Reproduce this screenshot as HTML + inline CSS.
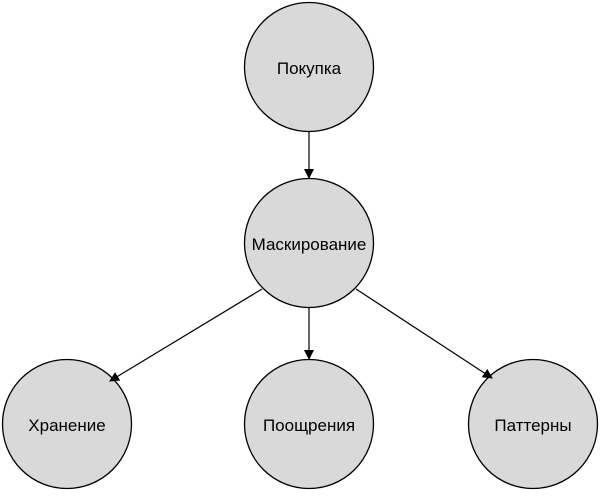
<!DOCTYPE html>
<html><head><meta charset="utf-8"><style>html,body{margin:0;padding:0;background:#fff}</style></head>
<body>
<svg width="600" height="492" viewBox="0 0 600 492" xmlns="http://www.w3.org/2000/svg">
<defs><marker id="a" markerWidth="10" markerHeight="10" refX="9" refY="5" orient="auto" markerUnits="userSpaceOnUse"><path d="M0,0 L10,5 L0,10 z" fill="#000"/></marker></defs>
<g fill="#d9d9d9" stroke="#000" stroke-width="1.3">
<circle cx="309" cy="67" r="64.5"/>
<circle cx="309" cy="243" r="64.5"/>
<circle cx="67" cy="424" r="64.5"/>
<circle cx="309" cy="424" r="64.5"/>
<circle cx="533" cy="424" r="64.5"/>
</g>
<g stroke="#000" stroke-width="1.2" marker-end="url(#a)">
<line x1="309" y1="132" x2="309" y2="178"/>
<line x1="309" y1="308" x2="309" y2="359"/>
<line x1="262" y1="289" x2="110" y2="381"/>
<line x1="356" y1="289" x2="492" y2="378"/>
</g>
<g font-family="Liberation Sans, sans-serif" font-size="17" text-anchor="middle" fill="#000">
<text x="309" y="74">Покупка</text>
<text x="309" y="250">Маскирование</text>
<text x="67" y="431">Хранение</text>
<text x="309" y="431">Поощрения</text>
<text x="533" y="431">Паттерны</text>
</g>
</svg>
</body></html>
